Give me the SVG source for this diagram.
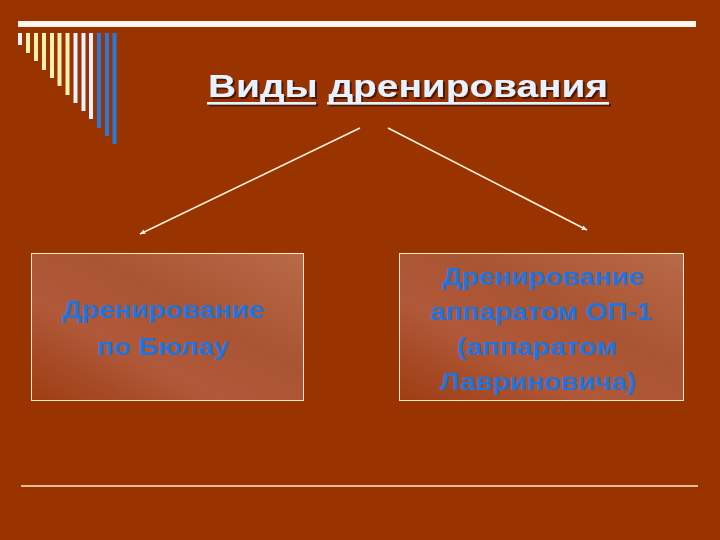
<svg xmlns="http://www.w3.org/2000/svg" width="720" height="540" viewBox="0 0 720 540">
<defs>
<linearGradient id="boxg" x1="0" y1="1" x2="1" y2="0">
<stop offset="0" stop-color="#9E3D12"/>
<stop offset="0.35" stop-color="#B0593A"/>
<stop offset="0.6" stop-color="#A95433"/>
<stop offset="1" stop-color="#B86A48"/>
</linearGradient>
<marker id="ah" viewBox="0 0 10 10" refX="9" refY="5" markerWidth="6" markerHeight="6" orient="auto" markerUnits="userSpaceOnUse">
<path d="M0,1 L10,5 L0,9 Z" fill="#FFF0DC"/>
</marker>
<filter id="sh" x="-5%" y="-20%" width="110%" height="140%">
<feDropShadow dx="2" dy="2" stdDeviation="0.6" flood-color="#3A1000" flood-opacity="0.8"/>
</filter>
</defs>
<style>
.bar{stroke-width:4}
.y{stroke:#FFF0B0}
.w{stroke:#EEF0FF}
.b{stroke:#2A78DC}
.conn{stroke:#FFF0DC;stroke-width:1.6;fill:none}
.box{fill:url(#boxg);stroke:#FFE8CC;stroke-width:1}
.bt{font-family:"Liberation Sans",Arial,sans-serif;font-weight:bold;font-size:24px;fill:#2274DC;text-anchor:middle}
</style>
<rect width="720" height="540" fill="#993300"/>
<g id="decor">
<rect x="18" y="21" width="678" height="6" fill="#FFF6EE"/>
<line class="bar w" x1="20" y1="33" x2="20" y2="45"/>
<line class="bar y" x1="28" y1="33" x2="28" y2="53"/>
<line class="bar y" x1="36" y1="33" x2="36" y2="61"/>
<line class="bar y" x1="44" y1="33" x2="44" y2="70"/>
<line class="bar y" x1="52" y1="33" x2="52" y2="78"/>
<line class="bar y" x1="59.5" y1="33" x2="59.5" y2="86"/>
<line class="bar y" x1="67.5" y1="33" x2="67.5" y2="95"/>
<line class="bar w" x1="75.5" y1="33" x2="75.5" y2="103"/>
<line class="bar w" x1="83.5" y1="33" x2="83.5" y2="111"/>
<line class="bar w" x1="91" y1="33" x2="91" y2="119"/>
<line class="bar b" x1="99" y1="33" x2="99" y2="128"/>
<line class="bar b" x1="107" y1="33" x2="107" y2="136"/>
<line class="bar b" x1="114.5" y1="33" x2="114.5" y2="144"/>
<line x1="21" y1="486" x2="698" y2="486" stroke="#FFE8C8" stroke-width="1.5"/>
</g>
<g id="title" filter="url(#sh)">
<text x="208" y="97" font-family="'Liberation Sans',Arial,sans-serif" font-weight="bold" font-size="31" fill="#E6F2FF" textLength="400" lengthAdjust="spacingAndGlyphs">Виды дренирования</text>
<rect x="207" y="102" width="109" height="2.5" fill="#E6F2FF"/>
<rect x="327" y="102" width="282" height="2.5" fill="#E6F2FF"/>
</g>
<g id="connectors">
<line class="conn" x1="360" y1="128" x2="140" y2="234" marker-end="url(#ah)"/>
<line class="conn" x1="388" y1="128" x2="587" y2="230" marker-end="url(#ah)"/>
</g>
<g id="node-left">
<rect class="box" x="31.5" y="253.5" width="272" height="147"/>
<text class="bt" x="163" y="318" textLength="202" lengthAdjust="spacingAndGlyphs">Дренирование</text>
<text class="bt" x="163" y="355" textLength="132" lengthAdjust="spacingAndGlyphs">по Бюлау</text>
</g>
<g id="node-right">
<rect class="box" x="399.5" y="253.5" width="284" height="147"/>
<text class="bt" x="543" y="285" textLength="202" lengthAdjust="spacingAndGlyphs">Дренирование</text>
<text class="bt" x="541" y="320" textLength="222" lengthAdjust="spacingAndGlyphs">аппаратом ОП-1</text>
<text class="bt" x="537" y="355" textLength="160" lengthAdjust="spacingAndGlyphs">(аппаратом</text>
<text class="bt" x="538" y="390" textLength="196" lengthAdjust="spacingAndGlyphs">Лавриновича)</text>
</g>
</svg>
